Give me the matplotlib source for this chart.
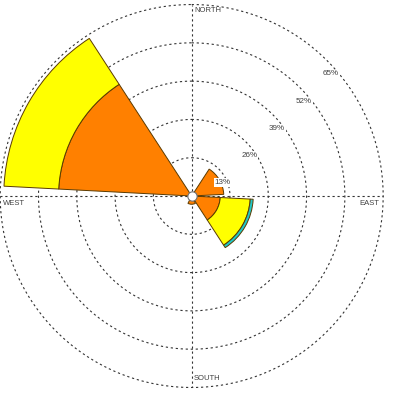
import matplotlib
matplotlib.use("Agg")
import matplotlib.pyplot as plt
import numpy as np

# Data (frequency in %, stacked by speed class)
directions = [0, 60, 120, 180, 240, 300]          # compass degrees
orange_vals = [0, 10.9, 9.7, 2.8, 0, 45.2]
yellow_vals = [0, 0, 10.2, 0, 0, 18.6]
cyan_vals   = [0, 0, 1.0, 0, 0, 0]
ring_vals = [13, 26, 39, 52, 65]
ring_labels = ["13%", "26%", "39%", "52%", "65%"]
compass_labels = ["NORTH", "EAST", "SOUTH", "WEST"]

plt.rcParams["font.family"] = ["Liberation Sans", "DejaVu Sans"]

fig = plt.figure(figsize=(3.94, 3.94), dpi=100)
ax = fig.add_axes([0.0005, 0.0165, 0.972, 0.972], projection="polar")
ax.set_theta_zero_location("N")
ax.set_theta_direction(-1)
ax.set_ylim(0, 65)
ax.grid(False)
ax.set_xticks([])
ax.set_yticks([])
ax.spines["polar"].set_visible(False)

grid_kw = dict(color="#333333", linewidth=0.8, linestyle=(0, (2, 2.5)), clip_on=False, zorder=1)

# rings
t = np.linspace(0, 2 * np.pi, 400)
for r in ring_vals:
    ax.plot(t, np.full_like(t, r), **grid_kw)
# axes lines
for a in [0, 90, 180, 270]:
    ax.plot([np.deg2rad(a), np.deg2rad(a)], [0, 65], **grid_kw)

# stacked sectors
theta = np.deg2rad(directions)
width = np.deg2rad(54)
bottom = np.zeros(len(directions))
edge = "#5a3a00"
for vals, col in [(orange_vals, "#ff8000"), (yellow_vals, "#ffff00"), (cyan_vals, "#20c8c8")]:
    vals = np.array(vals)
    mask = vals > 0
    ax.bar(theta[mask], vals[mask], width=width, bottom=bottom[mask], color=col,
           edgecolor=edge, linewidth=0.7, zorder=3)
    bottom = bottom + vals

# center circle
ax.plot([0], [0], "o", ms=6.7, mfc="white", mec="#707070", mew=0.8, zorder=5, clip_on=False)

# ring labels
for r, lab in zip(ring_vals, ring_labels):
    ax.annotate(lab, xy=(np.deg2rad(45), r), xytext=(2.7, -9.6), textcoords="offset points",
                ha="center", va="center", fontsize=5.8, color="#404040", zorder=6,
                bbox=dict(boxstyle="square,pad=0.1", fc="white", ec="none"))

# compass labels
fs = 5.5
ax.annotate(compass_labels[0], xy=(0, 65), xytext=(1.7, -4.4), textcoords="offset points",
            ha="left", va="center", fontsize=fs, color="#404040", annotation_clip=False)
ax.annotate(compass_labels[1], xy=(np.pi / 2, 65), xytext=(-2.9, -5.3), textcoords="offset points",
            ha="right", va="center", fontsize=fs, color="#404040", annotation_clip=False)
ax.annotate(compass_labels[2], xy=(np.pi, 65), xytext=(1.7, 6.8), textcoords="offset points",
            ha="left", va="center", fontsize=fs, color="#404040", annotation_clip=False)
ax.annotate(compass_labels[3], xy=(3 * np.pi / 2, 65), xytext=(1.8, -5.3), textcoords="offset points",
            ha="left", va="center", fontsize=fs, color="#404040", annotation_clip=False)

fig.savefig("out.png", dpi=100)
